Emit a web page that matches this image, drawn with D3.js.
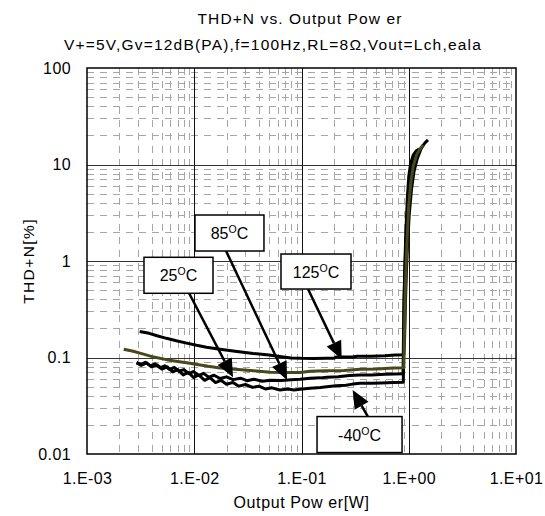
<!DOCTYPE html>
<html>
<head>
<meta charset="utf-8">
<script src="https://cdn.jsdelivr.net/npm/d3@7"></script>
<style>
  body { margin: 0; background: #fff; }
  svg text { font-family: Arial, "Liberation Sans", sans-serif; fill: #000; }
</style>
</head>
<body>
<svg id="chart" width="545" height="516"></svg>
<script>
// ---- text ----
const titleLines = ["THD+N vs. Output Pow er", "V+=5V,Gv=12dB(PA),f=100Hz,RL=8\u03A9,Vout=Lch,eala"];
const xTitle = "Output Pow er[W]";
const yTitle = "THD+N[%]";

// ---- axes ----
const xTicks = [1e-3, 1e-2, 1e-1, 1, 10];
const xTickLabels = ["1.E-03", "1.E-02", "1.E-01", "1.E+00", "1.E+01"];
const yTicks = [0.01, 0.1, 1, 10, 100];
const yTickLabels = ["0.01", "0.1", "1", "10", "100"];

// ---- measured series: [output power W, THD+N %] ----
const t125 = [[0.0031,0.186],[0.0038,0.178],[0.0045,0.168],[0.0055,0.158],[0.0068,0.149],[0.0085,0.141],
  [0.0105,0.134],[0.013,0.128],[0.0174,0.122],[0.024,0.116],[0.0355,0.110],[0.05,0.106],[0.065,0.102],
  [0.08,0.099],[0.1,0.098],[0.13,0.0975],[0.17,0.098],[0.2,0.098],[0.21,0.101],[0.3,0.101],[0.33,0.103],
  [0.45,0.103],[0.6,0.104],[0.75,0.106],[0.9,0.107],[0.915,0.16],[0.93,0.35],[0.95,0.75],[0.975,1.5],
  [1.01,3.0],[1.06,5.5],[1.12,8.5],[1.2,11.5],[1.3,14.5],[1.4,16.5],[1.51,18]];
const t85 = [[0.0022,0.122],[0.0027,0.116],[0.0033,0.109],[0.0042,0.101],[0.0055,0.095],[0.007,0.091],
  [0.0085,0.088],[0.011,0.084],[0.0135,0.081],[0.0174,0.078],[0.024,0.0755],[0.0355,0.073],[0.051,0.0705],
  [0.07,0.070],[0.097,0.0700],[0.12,0.072],[0.17,0.073],[0.25,0.0735],[0.35,0.0754],[0.5,0.076],
  [0.72,0.078],[0.9,0.0785],[0.91,0.16],[0.925,0.4],[0.945,0.9],[0.97,1.9],[1.0,3.8],[1.05,6.8],
  [1.1,9.5],[1.18,12.5],[1.27,14.5],[1.36,15.9]];
const t25 = [[0.0029,0.089],[0.0032,0.085],[0.0035,0.089],[0.0039,0.082],[0.0043,0.086],[0.0048,0.078],
  [0.0053,0.082],[0.0059,0.075],[0.0065,0.079],[0.0072,0.072],[0.008,0.075],[0.0089,0.068],[0.0098,0.0715],
  [0.011,0.065],[0.0122,0.0685],[0.0137,0.0625],[0.0153,0.0655],[0.0174,0.0605],[0.02,0.063],[0.023,0.0590],
  [0.027,0.0610],[0.031,0.0575],[0.036,0.0595],[0.043,0.0568],[0.051,0.0580],[0.065,0.0578],[0.08,0.0588],
  [0.097,0.0594],[0.12,0.061],[0.15,0.0615],[0.172,0.0624],[0.22,0.063],[0.28,0.065],[0.35,0.0659],
  [0.45,0.066],[0.6,0.067],[0.75,0.0675],[0.885,0.068],[0.892,0.15],[0.905,0.42],[0.925,0.95],
  [0.95,2.0],[0.985,4.2],[1.03,7.5],[1.08,10.5],[1.14,12.5],[1.2,13.1]];
const tm40 = [[0.0029,0.088],[0.0032,0.083],[0.0036,0.088],[0.004,0.080],[0.0045,0.084],[0.005,0.076],
  [0.0056,0.080],[0.0063,0.071],[0.007,0.075],[0.0079,0.066],[0.0088,0.070],[0.0099,0.062],[0.011,0.066],
  [0.0125,0.058],[0.014,0.062],[0.0158,0.055],[0.0177,0.058],[0.02,0.0528],[0.023,0.0552],[0.026,0.0505],
  [0.03,0.0525],[0.035,0.0490],[0.04,0.0505],[0.046,0.0472],[0.053,0.0485],[0.063,0.0460],[0.075,0.0472],
  [0.085,0.0460],[0.097,0.0470],[0.12,0.048],[0.15,0.049],[0.172,0.0498],[0.21,0.051],[0.26,0.0515],
  [0.3,0.053],[0.351,0.054],[0.45,0.054],[0.55,0.0545],[0.72,0.055],[0.89,0.0555],[0.895,0.12],
  [0.903,0.35],[0.92,0.9],[0.94,2.0],[0.97,4.5],[1.0,7.5],[1.04,10.2],[1.1,12.5],[1.17,13.8],[1.25,14.5]];

const seriesList = [
  { name: "125", data: t125, color: "#000000" },
  { name: "-40", data: tm40, color: "#000000" },
  { name: "25",  data: t25,  color: "#000000" },
  { name: "85",  data: t85,  color: "#48481a" }
];

// ---- callout labels: box centre, arrow tail and arrow tip in data units ----
const callouts = [
  { temp: "25",  box: [0.00713, 0.711], w: 69, h: 36, tail: [0.00893, 0.466], tip: [0.0230, 0.0624] },
  { temp: "85",  box: [0.0213, 1.95],   w: 69, h: 36, tail: [0.0198, 1.27],   tip: [0.0733, 0.0585] },
  { temp: "125", box: [0.1365, 0.778],  w: 70, h: 35, tail: [0.115, 0.513],   tip: [0.237, 0.0957] },
  { temp: "-40", box: [0.3477, 0.0159], w: 85, h: 36, tail: [0.417, 0.0242],  tip: [0.300, 0.046] }
];

// ---- layout ----
const plot = { left: 87, right: 516, top: 68, bottom: 454 };
const FONT = "Arial, 'Liberation Sans', sans-serif";
const svg = d3.select("#chart");

const x = d3.scaleLog().domain([1e-3, 10]).range([plot.left, plot.right]);
const y = d3.scaleLog().domain([0.01, 100]).range([plot.bottom, plot.top]);

// minor grid values (2..9 in each decade)
const minorX = [], minorY = [];
for (let e = -3; e < 1; e++) for (let m = 2; m <= 9; m++) minorX.push(m * Math.pow(10, e));
for (let e = -2; e < 2; e++) for (let m = 2; m <= 9; m++) minorY.push(m * Math.pow(10, e));

const grid = svg.append("g");
grid.selectAll("line.mx").data(minorX).join("line")
  .attr("x1", d => Math.round(x(d)) + 0.5).attr("x2", d => Math.round(x(d)) + 0.5)
  .attr("y1", plot.top).attr("y2", plot.bottom)
  .attr("stroke", "#a6a6a6").attr("stroke-width", 1).attr("stroke-dasharray", "7,6");
grid.selectAll("line.my").data(minorY).join("line")
  .attr("y1", d => Math.round(y(d)) + 0.5).attr("y2", d => Math.round(y(d)) + 0.5)
  .attr("x1", plot.left).attr("x2", plot.right)
  .attr("stroke", "#a6a6a6").attr("stroke-width", 1).attr("stroke-dasharray", "7,6");

// major grid
grid.selectAll("line.Mx").data(xTicks.slice(1, -1)).join("line")
  .attr("x1", d => Math.round(x(d)) + 0.5).attr("x2", d => Math.round(x(d)) + 0.5)
  .attr("y1", plot.top).attr("y2", plot.bottom)
  .attr("stroke", "#111").attr("stroke-width", 1);
grid.selectAll("line.My").data(yTicks.slice(1, -1)).join("line")
  .attr("y1", d => Math.round(y(d)) + 0.5).attr("y2", d => Math.round(y(d)) + 0.5)
  .attr("x1", plot.left).attr("x2", plot.right)
  .attr("stroke", "#333").attr("stroke-width", 1);

// frame
svg.append("rect")
  .attr("x", plot.left).attr("y", plot.top)
  .attr("width", plot.right - plot.left).attr("height", plot.bottom - plot.top)
  .attr("fill", "none").attr("stroke", "#000").attr("stroke-width", 1.5);

// axes (labels only; the grid carries the tick positions)
const xAxis = d3.axisBottom(x).tickValues(xTicks).tickSize(0)
  .tickFormat((d, i) => xTickLabels[i]);
const gx = svg.append("g").attr("transform", `translate(0,${plot.bottom})`).call(xAxis);
gx.select(".domain").remove();
gx.selectAll("text").attr("dy", null).attr("y", 30)
  .style("font-size", "16px").style("letter-spacing", "0.4px").style("font-family", FONT);

const yAxis = d3.axisLeft(y).tickValues(yTicks).tickSize(0)
  .tickFormat((d, i) => yTickLabels[i]);
const gy = svg.append("g").attr("transform", `translate(${plot.left},0)`).call(yAxis);
gy.select(".domain").remove();
gy.selectAll("text").attr("x", -16)
  .style("font-size", "16px").style("letter-spacing", "0.4px").style("font-family", FONT);

// curves
svg.append("clipPath").attr("id", "plotClip").append("rect")
  .attr("x", plot.left).attr("y", plot.top)
  .attr("width", plot.right - plot.left).attr("height", plot.bottom - plot.top);
const line = d3.line().x(d => x(d[0])).y(d => y(d[1]));
svg.append("g").attr("clip-path", "url(#plotClip)")
  .selectAll("path").data(seriesList).join("path")
  .attr("d", d => line(d.data))
  .attr("fill", "none").attr("stroke", d => d.color)
  .attr("stroke-width", 3).attr("stroke-linejoin", "round");

// callouts
const cg = svg.append("g");
callouts.forEach(c => {
  const tx = x(c.tail[0]), ty = y(c.tail[1]);
  const px = x(c.tip[0]), py = y(c.tip[1]);
  const ang = Math.atan2(py - ty, px - tx);
  const L = 18, W = 8;
  const bx = px - L * Math.cos(ang), by = py - L * Math.sin(ang);
  cg.append("line")
    .attr("x1", tx).attr("y1", ty).attr("x2", bx).attr("y2", by)
    .attr("stroke", "#000").attr("stroke-width", 2.5);
  const nx = -Math.sin(ang), ny = Math.cos(ang);
  cg.append("polygon")
    .attr("points", [[px, py], [bx + W * nx, by + W * ny], [bx - W * nx, by - W * ny]].map(p => p.join(",")).join(" "))
    .attr("fill", "#000");

  const cx = x(c.box[0]), cy = y(c.box[1]);
  cg.append("rect")
    .attr("x", cx - c.w / 2).attr("y", cy - c.h / 2).attr("width", c.w).attr("height", c.h)
    .attr("fill", "#fff").attr("stroke", "#000").attr("stroke-width", 1.5);
  const t = cg.append("text").attr("x", cx).attr("y", cy + 6)
    .attr("text-anchor", "middle").style("font-size", "16px");
  t.append("tspan").text(c.temp);
  t.append("tspan").attr("dy", -6).style("font-size", "10.5px").text("O");
  t.append("tspan").attr("dy", 6).text("C");
});

// titles
svg.append("text").attr("x", 300).attr("y", 24).attr("text-anchor", "middle")
  .style("font-size", "15.5px").style("letter-spacing", "1.1px").text(titleLines[0]);
svg.append("text").attr("x", 273).attr("y", 50).attr("text-anchor", "middle")
  .style("font-size", "15.5px").style("letter-spacing", "1.2px").text(titleLines[1]);
svg.append("text").attr("x", (plot.left + plot.right) / 2).attr("y", 508).attr("text-anchor", "middle")
  .style("font-size", "16px").style("letter-spacing", "0.6px").text(xTitle);
svg.append("text").attr("transform", `translate(34,${(plot.top + plot.bottom) / 2}) rotate(-90)`)
  .attr("text-anchor", "middle").style("font-size", "15.5px").style("letter-spacing", "1.4px").text(yTitle);
</script>
</body>
</html>
